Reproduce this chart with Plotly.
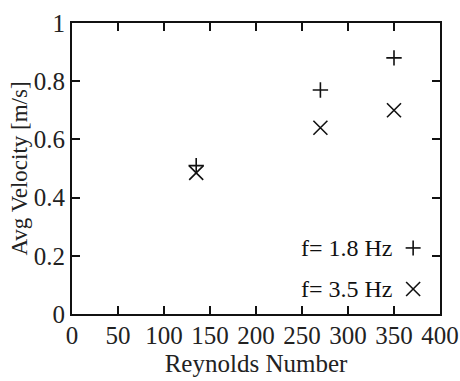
import plotly.graph_objects as go

reynolds = [135, 270, 350]
vel_18hz = [0.51, 0.77, 0.88]
vel_35hz = [0.485, 0.64, 0.70]
legend_labels = ["f= 1.8 Hz", "f= 3.5 Hz"]
x_ticks = [0, 50, 100, 150, 200, 250, 300, 350, 400]
y_ticks = [0, 0.2, 0.4, 0.6, 0.8, 1]
y_tick_text = ["0", "0.2", "0.4", "0.6", "0.8", "1"]

FONT = "Liberation Serif"
fig = go.Figure()
fig.add_trace(go.Scatter(x=reynolds, y=vel_18hz, mode="markers", name=legend_labels[0],
                         marker=dict(symbol="cross-thin", size=11, line=dict(width=1.6, color="#111"))))
fig.add_trace(go.Scatter(x=reynolds, y=vel_35hz, mode="markers", name=legend_labels[1],
                         marker=dict(symbol="x-thin", size=14, line=dict(width=1.6, color="#111"))))

# custom legend: text left, symbol right
leg_y = [0.227, 0.086]
for lab, yy in zip(legend_labels, leg_y):
    fig.add_annotation(x=0.878, y=yy, xref="paper", yref="paper", text=lab, showarrow=False,
                       xanchor="right", yanchor="middle", font=dict(family=FONT, size=24, color="#111"))
lx = 0.927
shp = dict(type="line", xref="paper", yref="paper", xsizemode="pixel", ysizemode="pixel",
           line=dict(color="#111", width=1.6))
# plus
fig.add_shape(**shp, xanchor=lx, yanchor=leg_y[0], x0=-7.5, x1=7.5, y0=0, y1=0)
fig.add_shape(**shp, xanchor=lx, yanchor=leg_y[0], x0=0, x1=0, y0=-7.5, y1=7.5)
# x
fig.add_shape(**shp, xanchor=lx, yanchor=leg_y[1], x0=-7, x1=7, y0=-7, y1=7)
fig.add_shape(**shp, xanchor=lx, yanchor=leg_y[1], x0=-7, x1=7, y0=7, y1=-7)

axis_common = dict(showgrid=False, zeroline=False, showline=True, linewidth=2, linecolor="#111",
                   ticks="inside", ticklen=8, tickwidth=2, tickcolor="#111", mirror="ticks",
                   automargin=False, tickfont=dict(family=FONT, size=25, color="#222"))
fig.update_xaxes(range=[0, 400], tickvals=x_ticks, **axis_common, ticklabelstandoff=-2,
                 title=dict(text="Reynolds Number", font=dict(family=FONT, size=25, color="#222"), standoff=6))
fig.update_yaxes(range=[0, 1], tickvals=y_ticks, ticktext=y_tick_text, **axis_common,
                 title=dict(text="Avg Velocity [m/s]", font=dict(family=FONT, size=23, color="#222"), standoff=0))
fig.update_layout(width=460, height=381, margin=dict(l=72, r=20, t=23, b=67),
                  plot_bgcolor="white", paper_bgcolor="white", showlegend=False)
fig.write_html("out.html")
